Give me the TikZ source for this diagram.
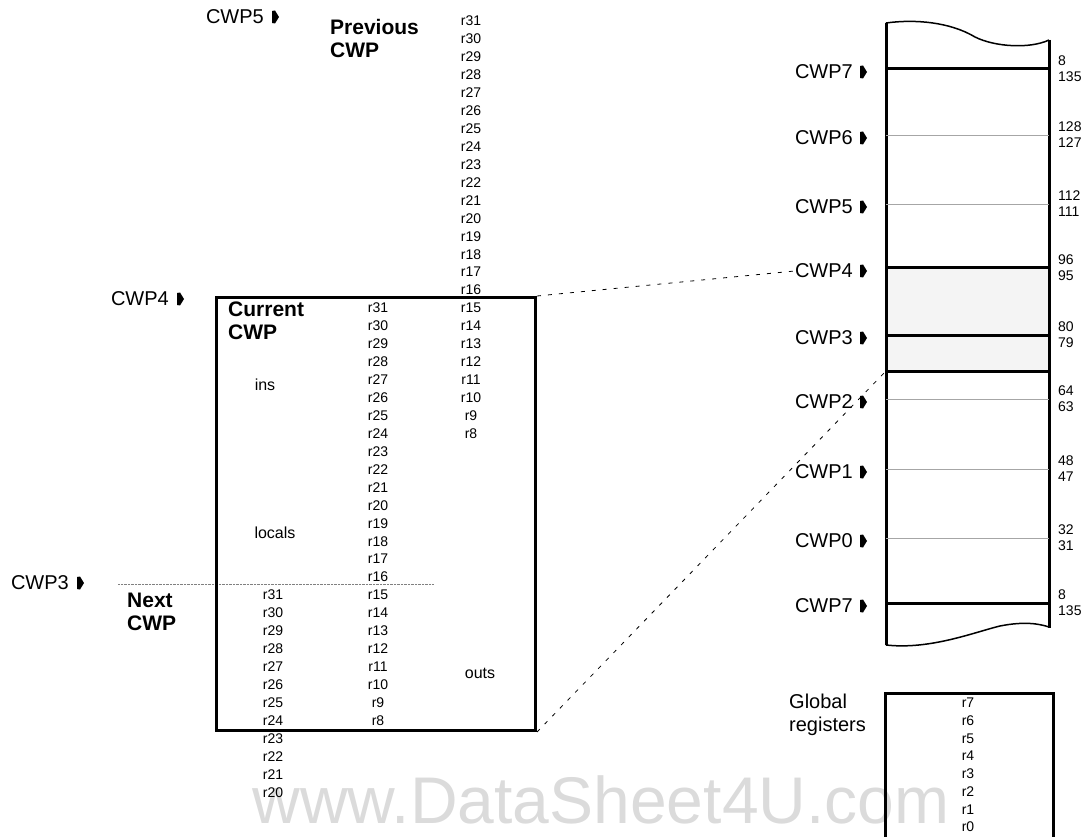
\documentclass[tikz,border=0pt]{standalone}
\usepackage{fontspec}
\setmainfont{Liberation Sans}
\usetikzlibrary{positioning}

\definecolor{wmgray}{gray}{0.86}

\tikzset{
  reg/.style={font=\fontsize{14}{14}\selectfont, inner sep=0pt},
  lbl/.style={font=\fontsize{20}{23}\selectfont, inner sep=0pt},
  head/.style={font=\bfseries\fontsize{21}{23}\selectfont, inner sep=0pt, align=left, anchor=west},
  part/.style={font=\fontsize{16}{16}\selectfont, inner sep=0pt},
  num/.style={font=\fontsize{14}{14}\selectfont, inner sep=0pt, anchor=west},
  win/.style={line width=3pt},
  cut/.style={gray!70, line width=0.8pt},
  link/.style={dash pattern=on 4pt off 7pt, line width=0.8pt},
  ptr/.pic={\fill (0,-6) -- (3,-6.5) -- (7,0) -- (3,6.5) -- (0,6) -- cycle;}
}

\begin{document}
\begin{tikzpicture}[x=1pt,y=-1pt]
\useasboundingbox (0,0) rectangle (1085,837);

% Watermark
\node[font=\fontsize{66}{66}\selectfont, text=wmgray, anchor=base, inner sep=0pt] (wm) at (601,823) {www.DataSheet4U.com};

% Window stack
\fill[gray!9] (886,268) rectangle (1049,371);
\draw[win] (886,23) -- (886,645);
\draw[win] (1049,40) -- (1049,628);
\draw[line width=1.5pt] (886,23) .. controls (915,19) and (950,22) .. (975,37) .. controls (995,47) and (1030,49) .. (1049,40);
\draw[line width=1.5pt] (886,645) .. controls (930,650) and (975,632) .. (1000,626) .. controls (1025,621) and (1040,624) .. (1049,627);
\foreach \y in {135,204,399,469,538}
\draw[cut] (886,\y) -- (1049,\y);
\foreach \y in {69,268,335,371,603}
\draw[win] (886,\y) -- (1049,\y);
\coordinate (w3low) at (886,371);

% Window pointers and register numbers
\foreach \nm/\n/\y/\hi/\lo in {t7/7/69/8/135, 6/6/135/128/127, 5/5/204/112/111, 4/4/268/96/95, 3/3/335/80/79, 2/2/399/64/63, 1/1/469/48/47, 0/0/538/32/31, b7/7/603/8/135}
{
\node[lbl, anchor=east] (w\nm) at (853,\y+3) {CWP\n};
\pic at ([xshift=7pt]w\nm.east) {ptr};
\node[num] (hi\nm) at (1058,\y-8) {\hi};
\node[num] (lo\nm) at (1058,\y+8) {\lo};
}

% Pointers on the left
\node[lbl, anchor=east] (cwp5) at (264,17) {CWP5};
\pic at ([xshift=8pt]cwp5.east) {ptr};
\node[lbl, anchor=east] (cwp4) at (169,299) {CWP4};
\pic at ([xshift=8pt]cwp4.east) {ptr};
\node[lbl, anchor=east] (cwp3) at (69,583) {CWP3};
\pic at ([xshift=8pt]cwp3.east) {ptr};

% Guide for next window
\coordinate (g3a) at (118,584);
\coordinate (g3b) at (434,584);
\draw[gray, densely dotted] (g3a) -- (g3b);

% Current window
\node[draw, win, anchor=north west, minimum width=319pt, minimum height=433pt, inner sep=0pt] (cur) at (215,296) {};

% Headings
\node[head] (prev) at (330,38) {Previous\\CWP};
\node[head] (curh) at (228,321) {Current\\CWP};
\node[head] (next) at (127,612) {Next\\CWP};

% Register columns
\foreach \i [count=\k from 0] in {31,30,...,8}
\node[reg] (p\i) at (471,21+\k*17.94) {r\i};
\foreach \i [count=\k from 0] in {31,30,...,8}
\node[reg] (c\i) at (378,308+\k*17.94) {r\i};
\foreach \i [count=\k from 0] in {31,30,...,20}
\node[reg] (n\i) at (273,595+\k*17.94) {r\i};

% Parts
\node[part] (ins) at (265,385) {ins};
\node[part] (locals) at (275,533) {locals};
\node[part] (outs) at (480,673) {outs};

% Links to the stack
\draw[link] (cur.north east) -- (w4.west);
\draw[link] (cur.south east) -- (w3low);

% Global registers
\draw[win] (885,837) |- (1053,693) -- (1053,837);
\node[lbl, align=left, anchor=west] (glob) at (789,715) {Global\\registers};
\foreach \i [count=\k from 0] in {7,6,...,0}
\node[reg] (g\i) at (968,703+\k*17.7) {r\i};
\end{tikzpicture}
\end{document}
